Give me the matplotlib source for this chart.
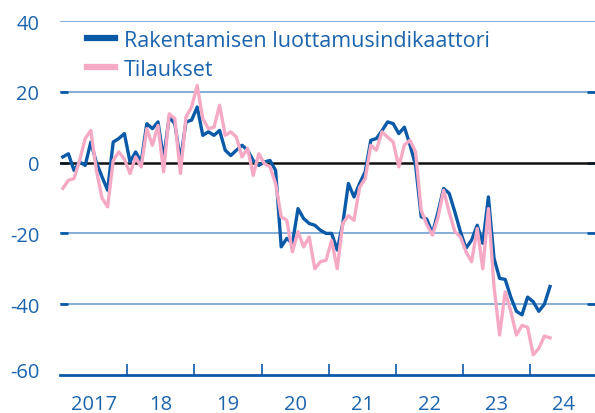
import matplotlib
matplotlib.use("Agg")
import matplotlib.pyplot as plt
import matplotlib.transforms as mtransforms
import numpy as np

plt.rcParams['font.family'] = ['Open Sans', 'DejaVu Sans']

start_year = 2017
confidence = [
    1.6, 2.5, -2.2, 0.2, -0.8, 5.8, 0.0, -4.0, -7.8, 5.8, 6.8, 8.2,
    0.2, 3.0, 0.2, 11.0, 9.6, 11.5, 1.0, 12.9, 11.0, 0.6, 11.5, 12.0,
    15.7, 7.7, 8.7, 7.7, 9.1, 3.5, 2.0, 3.5, 4.9, 3.5, 0.6, -0.8,
    0.2, 0.6, -2.2, -23.8, -21.4, -22.8, -13.0, -15.8, -17.2, -17.7, -19.1, -20.0,
    -20.0, -24.7, -17.2, -5.9, -9.7, -5.9, -2.6, 6.3, 6.8, 9.0, 11.5, 11.0,
    8.2, 10.0, 5.0, -0.8, -15.3, -16.0, -20.0, -14.0, -7.3, -8.7, -13.9, -19.5,
    -24.2, -21.9, -17.7, -22.8, -9.7, -27.0, -32.7, -33.0, -38.0, -42.0, -43.0, -38.0,
    -39.3, -42.0, -40.0, -35.0,
]
orders = [
    -7.3, -5.0, -4.5, 0.6, 6.8, 9.1, -2.2, -10.0, -12.5, 0.6, 3.0, 1.0,
    -3.1, 1.6, -1.2, 9.6, 4.9, 10.5, -2.6, 13.8, 12.4, -3.1, 12.9, 15.7,
    21.8, 12.4, 9.6, 10.0, 16.2, 7.7, 8.7, 7.2, 1.6, 4.0, -3.6, 2.5,
    -0.3, -1.2, -5.9, -15.3, -16.3, -25.2, -19.5, -23.8, -21.0, -30.0, -28.0, -27.6,
    -22.0, -30.0, -17.2, -15.0, -16.3, -7.0, -4.5, 4.9, 3.5, 8.7, 7.2, 5.8,
    -1.2, 5.0, 6.3, 3.0, -13.5, -17.5, -20.5, -15.5, -7.8, -14.0, -19.5, -21.0,
    -25.2, -28.0, -18.6, -30.0, -13.0, -35.0, -48.7, -36.5, -42.0, -48.7, -46.0, -46.5,
    -54.3, -52.5, -49.0, -49.5,
]
labels = ["Rakentamisen luottamusindikaattori", "Tilaukset"]
year_labels = ["2017", "18", "19", "20", "21", "22", "23", "24"]
yticks = [-60, -40, -20, 0, 20, 40]

BLUE = "#0a5aa8"
PINK = "#f6a9c5"
GRID = "#7ba7d6"
TEXT = "#1b64ae"

W, H = 595, 414
fig = plt.figure(figsize=(W / 100, H / 100), dpi=100)
ax = fig.add_axes([60 / W, (H - 376) / H, (595 - 60) / W, (376 - 22) / H])

x = start_year + (np.arange(len(confidence)) + 0.5) / 12.0

for yv in [40, 20, -20, -40]:
    ax.axhline(yv, color=GRID, lw=1.3, zorder=1)
ax.axhline(0, color="#111111", lw=1.8, zorder=2)

ax.plot(x, confidence, color=BLUE, lw=2.4, label=labels[0], zorder=3,
        solid_joinstyle="round")
ax.plot(x, orders, color=PINK, lw=2.4, label=labels[1], zorder=4,
        solid_joinstyle="round")

ax.set_ylim(-60, 40)
ax.set_xlim(2017.0, 2017 + (595 - 60) / 67.2)

for s in ["top", "right", "left"]:
    ax.spines[s].set_visible(False)
ax.spines["bottom"].set_color(BLUE)
ax.spines["bottom"].set_linewidth(2.0)

ax.set_yticks(yticks)
ax.set_yticklabels([str(v) for v in yticks])
ax.tick_params(axis="y", direction="in", length=6, width=2, color=BLUE,
               labelsize=14.5, labelcolor=TEXT, pad=15, left=True, right=True)
for t in ax.yaxis.get_major_ticks():
    if t.get_loc() in (-60, 40):
        t.tick1line.set_visible(False)
        t.tick2line.set_visible(False)
for lbl in ax.get_yticklabels():
    lbl.set_horizontalalignment("right")
# lift the bottom label slightly, as in the reference
lowest = ax.get_yticklabels()[0]
lowest.set_transform(lowest.get_transform() +
                     mtransforms.ScaledTranslation(0, 5 / 100, fig.dpi_scale_trans))

ax.set_xticks(range(2018, 2025))
ax.set_xticklabels([])
ax.tick_params(axis="x", direction="in", length=8, width=1.2, color=BLUE)
ax.set_xticks([2017.5 + i for i in range(len(year_labels))], minor=True)
ax.set_xticklabels(year_labels, minor=True)
ax.tick_params(axis="x", which="minor", length=0, labelsize=14.5, labelcolor=TEXT, pad=14)

leg = ax.legend(loc="upper left", bbox_to_anchor=(27 / 535, (376 - 31) / 354),
                frameon=False, fontsize=15.5, handlelength=1.3, handletextpad=0.4,
                labelspacing=0.35, borderpad=0, borderaxespad=0)
for txt in leg.get_texts():
    txt.set_color(TEXT)
for h in leg.get_lines():
    h.set_linewidth(4.5)

fig.savefig("out.png", dpi=100)
